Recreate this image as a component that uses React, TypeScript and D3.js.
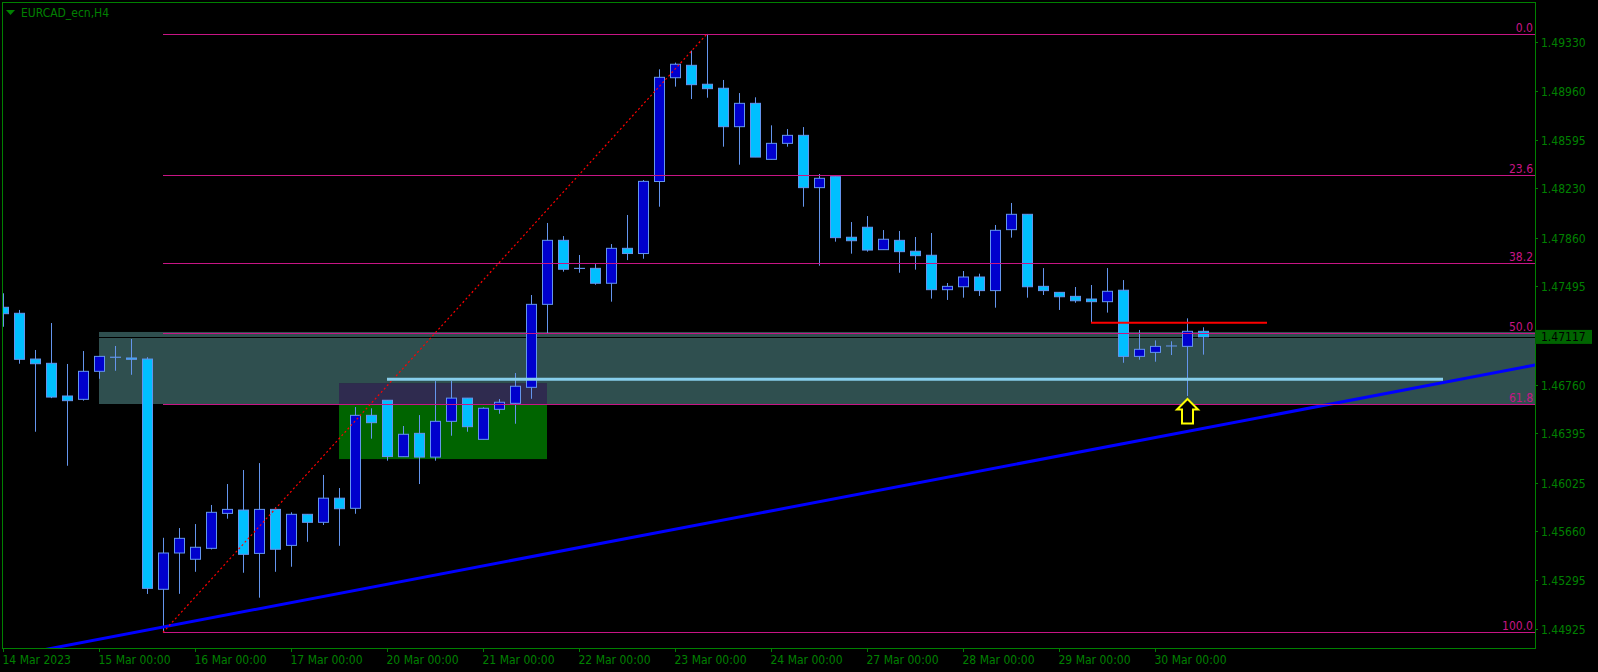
import React, { useEffect, useRef } from 'react';
import * as d3 from 'd3';

// EURCAD H4 candles, 14 Mar 2023 00:00 onwards (one entry per 4h bar)
const opens = [
  1.47339, 1.47294, 1.46951, 1.46919, 1.46674, 1.46649, 1.46859, 1.46965, 1.46959, 1.46951,
  1.45225, 1.45497, 1.45450, 1.45532, 1.45794, 1.45819, 1.45494, 1.45824, 1.45554, 1.45787,
  1.45727, 1.45908, 1.45832, 1.46529, 1.46642, 1.46219, 1.46394, 1.46216, 1.46484, 1.46658,
  1.46349, 1.46574, 1.46619, 1.46739, 1.47361, 1.47841, 1.47631, 1.47631, 1.47519, 1.47781,
  1.47742, 1.48282, 1.49060, 1.49153, 1.49011, 1.48981, 1.48693, 1.48868, 1.48448, 1.48568,
  1.48628, 1.48236, 1.48318, 1.47864, 1.47939, 1.47771, 1.47841, 1.47759, 1.47729, 1.47471,
  1.47493, 1.47566, 1.47464, 1.47921, 1.48036, 1.47496, 1.47451, 1.47421, 1.47401, 1.47381,
  1.47467, 1.46971, 1.47001, 1.47049, 1.47046, 1.47159
];
const highs = [
  1.47444, 1.47319, 1.47019, 1.47221, 1.46914, 1.47011, 1.46971, 1.47049, 1.47101, 1.46965,
  1.45611, 1.45684, 1.45714, 1.45857, 1.46014, 1.46119, 1.46171, 1.45839, 1.45802, 1.45787,
  1.46082, 1.45984, 1.46591, 1.46582, 1.46642, 1.46449, 1.46531, 1.46786, 1.46786, 1.46658,
  1.46589, 1.46651, 1.46846, 1.47431, 1.47971, 1.47873, 1.47731, 1.47663, 1.47813, 1.48031,
  1.48293, 1.49123, 1.49173, 1.49263, 1.49388, 1.49043, 1.48945, 1.48913, 1.48703, 1.48675,
  1.48690, 1.48338, 1.48318, 1.47978, 1.48023, 1.47918, 1.47911, 1.47866, 1.47896, 1.47521,
  1.47611, 1.47591, 1.47956, 1.48121, 1.48036, 1.47633, 1.47453, 1.47491, 1.47506, 1.47633,
  1.47543, 1.47169, 1.47091, 1.47084, 1.47256, 1.47189
];
const lows = [
  1.47193, 1.46916, 1.46406, 1.46658, 1.46151, 1.46639, 1.46803, 1.46863, 1.46833, 1.45190,
  1.44902, 1.45191, 1.45356, 1.45524, 1.45754, 1.45349, 1.45162, 1.45356, 1.45394, 1.45581,
  1.45707, 1.45551, 1.45791, 1.46354, 1.46189, 1.46219, 1.46014, 1.46189, 1.46376, 1.46406,
  1.46349, 1.46541, 1.46466, 1.46653, 1.47146, 1.47606, 1.47598, 1.47508, 1.47381, 1.47693,
  1.47703, 1.48093, 1.48993, 1.48900, 1.48910, 1.48543, 1.48408, 1.48465, 1.48448, 1.48543,
  1.48093, 1.47651, 1.47831, 1.47741, 1.47756, 1.47771, 1.47598, 1.47621, 1.47404, 1.47394,
  1.47411, 1.47424, 1.47336, 1.47861, 1.47411, 1.47431, 1.47319, 1.47373, 1.47223, 1.47299,
  1.46923, 1.46946, 1.46931, 1.46981, 1.46674, 1.46984
];
const closes = [
  1.47291, 1.46949, 1.46916, 1.46666, 1.46639, 1.46859, 1.46971, 1.46964, 1.46949, 1.45232,
  1.45497, 1.45607, 1.45540, 1.45802, 1.45824, 1.45487, 1.45824, 1.45525, 1.45787, 1.45727,
  1.45908, 1.45829, 1.46529, 1.46474, 1.46220, 1.46387, 1.46216, 1.46484, 1.46658, 1.46444,
  1.46582, 1.46627, 1.46747, 1.47361, 1.47841, 1.47624, 1.47630, 1.47519, 1.47781, 1.47742,
  1.48283, 1.49063, 1.49161, 1.49008, 1.48978, 1.48693, 1.48868, 1.48465, 1.48568, 1.48628,
  1.48236, 1.48306, 1.47861, 1.47838, 1.47768, 1.47849, 1.47756, 1.47726, 1.47471, 1.47496,
  1.47566, 1.47464, 1.47916, 1.48036, 1.47493, 1.47464, 1.47418, 1.47388, 1.47381, 1.47459,
  1.46971, 1.47024, 1.47046, 1.47049, 1.47159, 1.47117
];

const priceTicks = [1.4933, 1.4896, 1.48595, 1.4823, 1.4786, 1.47495, 1.4676, 1.46395, 1.46025, 1.4566, 1.45295, 1.44925];
const dateTickBars = [0, 6, 12, 18, 24, 30, 36, 42, 48, 54, 60, 66, 72];
const dateTickLabels = [
  '14 Mar 2023', '15 Mar 00:00', '16 Mar 00:00', '17 Mar 00:00', '20 Mar 00:00', '21 Mar 00:00',
  '22 Mar 00:00', '23 Mar 00:00', '24 Mar 00:00', '27 Mar 00:00', '28 Mar 00:00', '29 Mar 00:00', '30 Mar 00:00'
];

// fibonacci retracement, anchored on bar 10 low and bar 44 high
const fiboLevels = [0, 23.6, 38.2, 50, 61.8, 100];
const fiboLow = { bar: 10, price: 1.44902 };
const fiboHigh = { bar: 44, price: 1.49388 };

const bidPrice = 1.47117;
const supportZone = { fromBar: 6, top: 1.47154, bottom: 1.46614 };
const greenBox = { fromBar: 21, toBar: 34, top: 1.46771, bottom: 1.46201 };
const skyLine = { fromBar: 24, toBar: 90, price: 1.46799 };
const redLine = { fromBar: 68, toBar: 79, price: 1.47223 };
const trendPoints = [{ bar: 10, price: 1.44942 }, { bar: 85, price: 1.4666 }];
const arrowBar = 74;

const W = 1598;
const H = 672;
const FONT = "'DejaVu Sans Condensed', 'DejaVu Sans', sans-serif";
const GREEN = '#008000';
const FIBO = '#C71585';

export default function App() {
  const svgRef = useRef<SVGSVGElement>(null);

  useEffect(() => {
    if (!svgRef.current) return;
    const svg = d3.select(svgRef.current);
    svg.selectAll('*').remove();

    const left = 2, top = 2, right = 1535, bottom = 648;

    const x = d3.scaleLinear().domain([0, 72]).range([3, 1155]);
    const y = d3.scaleLinear().domain([1.44925, 1.4933]).range([629.3, 41.7]);

    svg.append('rect').attr('width', W).attr('height', H).attr('fill', '#000');

    svg.append('defs').append('clipPath').attr('id', 'plot')
      .append('rect').attr('x', left + 1).attr('y', top + 1)
      .attr('width', right - left - 1).attr('height', bottom - top - 1);

    const g = svg.append('g').attr('clip-path', 'url(#plot)');

    // background zones
    g.append('rect')
      .attr('x', x(supportZone.fromBar)).attr('y', y(supportZone.top))
      .attr('width', right - x(supportZone.fromBar))
      .attr('height', y(supportZone.bottom) - y(supportZone.top))
      .attr('fill', '#2F4F4F');

    g.append('rect')
      .attr('x', x(greenBox.fromBar)).attr('y', y(greenBox.top))
      .attr('width', x(greenBox.toBar) - x(greenBox.fromBar))
      .attr('height', y(greenBox.bottom) - y(greenBox.top))
      .attr('fill', '#006400');

    // overlap of both zones (MT4 xor blend)
    g.append('rect')
      .attr('x', x(greenBox.fromBar)).attr('y', y(greenBox.top))
      .attr('width', x(greenBox.toBar) - x(greenBox.fromBar))
      .attr('height', y(supportZone.bottom) - y(greenBox.top))
      .attr('fill', '#2F2B4F');

    // bid line
    g.append('line')
      .attr('x1', left).attr('x2', right)
      .attr('y1', Math.round(y(bidPrice)) + 0.5).attr('y2', Math.round(y(bidPrice)) + 0.5)
      .attr('stroke', '#000').attr('stroke-width', 1);

    // candles
    const bars = d3.range(opens.length);
    const candle = g.selectAll('.candle').data(bars).enter().append('g').attr('class', 'candle');

    candle.append('line')
      .attr('x1', i => Math.round(x(i)) + 0.5).attr('x2', i => Math.round(x(i)) + 0.5)
      .attr('y1', i => y(highs[i])).attr('y2', i => y(lows[i]))
      .attr('stroke', '#6495ED').attr('stroke-width', 1);

    candle.append('rect')
      .attr('x', i => Math.round(x(i)) - 4.5)
      .attr('y', i => y(Math.max(opens[i], closes[i])))
      .attr('width', 10)
      .attr('height', i => Math.max(0.01, Math.abs(y(opens[i]) - y(closes[i]))))
      .attr('fill', i => (closes[i] > opens[i] ? '#0000CD' : '#00BFFF'))
      .attr('stroke', '#6495ED').attr('stroke-width', 1);

    // trendline (ray both ways)
    const tx0 = x(trendPoints[0].bar), ty0 = y(trendPoints[0].price);
    const tx1 = x(trendPoints[1].bar), ty1 = y(trendPoints[1].price);
    const slope = (ty1 - ty0) / (tx1 - tx0);
    g.append('line')
      .attr('x1', 0).attr('y1', ty0 + slope * (0 - tx0))
      .attr('x2', W).attr('y2', ty0 + slope * (W - tx0))
      .attr('stroke', '#0000FF').attr('stroke-width', 3);

    // fibo levels
    const fy = (lvl: number) => y(fiboHigh.price - (fiboHigh.price - fiboLow.price) * lvl / 100);
    fiboLevels.forEach(lvl => {
      const yy = Math.round(fy(lvl)) + 0.5;
      g.append('line')
        .attr('x1', x(fiboLow.bar)).attr('x2', right)
        .attr('y1', yy).attr('y2', yy)
        .attr('stroke', FIBO).attr('stroke-width', 1);
      g.append('text')
        .attr('x', right - 2).attr('y', yy - 3)
        .attr('text-anchor', 'end')
        .style('font-family', FONT).style('font-stretch', 'condensed').style('font-size', '12px')
        .attr('fill', FIBO)
        .text(lvl.toFixed(1));
    });

    g.append('line')
      .attr('x1', x(fiboLow.bar)).attr('y1', y(fiboLow.price))
      .attr('x2', x(fiboHigh.bar)).attr('y2', y(fiboHigh.price))
      .attr('stroke', '#FF0000').attr('stroke-width', 1.2)
      .attr('stroke-dasharray', '2,2.5');

    // horizontal levels
    g.append('line')
      .attr('x1', x(skyLine.fromBar)).attr('x2', x(skyLine.toBar))
      .attr('y1', y(skyLine.price)).attr('y2', y(skyLine.price))
      .attr('stroke', '#87CEEB').attr('stroke-width', 3);

    g.append('line')
      .attr('x1', x(redLine.fromBar)).attr('x2', x(redLine.toBar))
      .attr('y1', y(redLine.price)).attr('y2', y(redLine.price))
      .attr('stroke', '#FF0000').attr('stroke-width', 2);

    // up arrow below the bar
    const ax = Math.round(x(arrowBar)) + 0.5;
    const ay = y(lows[arrowBar]) + 3;
    g.append('path')
      .attr('d', `M${ax},${ay} l10.5,10.5 h-5 v14 h-11 v-14 h-5 Z`)
      .attr('fill', '#000').attr('stroke', '#FFFF00').attr('stroke-width', 2)
      .attr('stroke-linejoin', 'miter');

    // frame
    svg.append('rect')
      .attr('x', left + 0.5).attr('y', top + 0.5)
      .attr('width', right - left).attr('height', bottom - top)
      .attr('fill', 'none').attr('stroke', GREEN).attr('stroke-width', 1);

    // title
    svg.append('path').attr('d', 'M6,10 L15,10 L10.5,15 Z').attr('fill', GREEN);
    svg.append('text')
      .attr('x', 21).attr('y', 17)
      .style('font-family', FONT).style('font-stretch', 'condensed').style('font-size', '12px')
      .attr('fill', GREEN)
      .text('EURCAD_ecn,H4');

    // price axis
    priceTicks.forEach(p => {
      const yy = Math.round(y(p)) + 0.5;
      svg.append('line')
        .attr('x1', right).attr('x2', right + 3)
        .attr('y1', yy).attr('y2', yy)
        .attr('stroke', GREEN);
      svg.append('text')
        .attr('x', right + 6).attr('y', yy + 4.5)
        .style('font-family', FONT).style('font-stretch', 'condensed').style('font-size', '12px')
        .attr('fill', GREEN)
        .text(p.toFixed(5));
    });

    const by = y(bidPrice);
    svg.append('rect')
      .attr('x', right).attr('y', by - 7)
      .attr('width', 57).attr('height', 14)
      .attr('fill', '#006400');
    svg.append('text')
      .attr('x', right + 6).attr('y', by + 4.5)
      .style('font-family', FONT).style('font-stretch', 'condensed').style('font-size', '12px')
      .attr('fill', '#000')
      .text(bidPrice.toFixed(5));

    // time axis
    dateTickBars.forEach((b, k) => {
      const xx = Math.round(x(b)) + 0.5;
      svg.append('line')
        .attr('x1', xx).attr('x2', xx)
        .attr('y1', bottom).attr('y2', bottom + 4)
        .attr('stroke', GREEN);
      svg.append('text')
        .attr('x', xx - 1).attr('y', 664)
        .style('font-family', FONT).style('font-stretch', 'condensed').style('font-size', '12px')
        .attr('fill', GREEN)
        .text(dateTickLabels[k]);
    });
  }, []);

  return (
    <svg
      ref={svgRef}
      width={W}
      height={H}
      style={{ position: 'absolute', left: 0, top: 0, display: 'block', background: '#000' }}
    />
  );
}
